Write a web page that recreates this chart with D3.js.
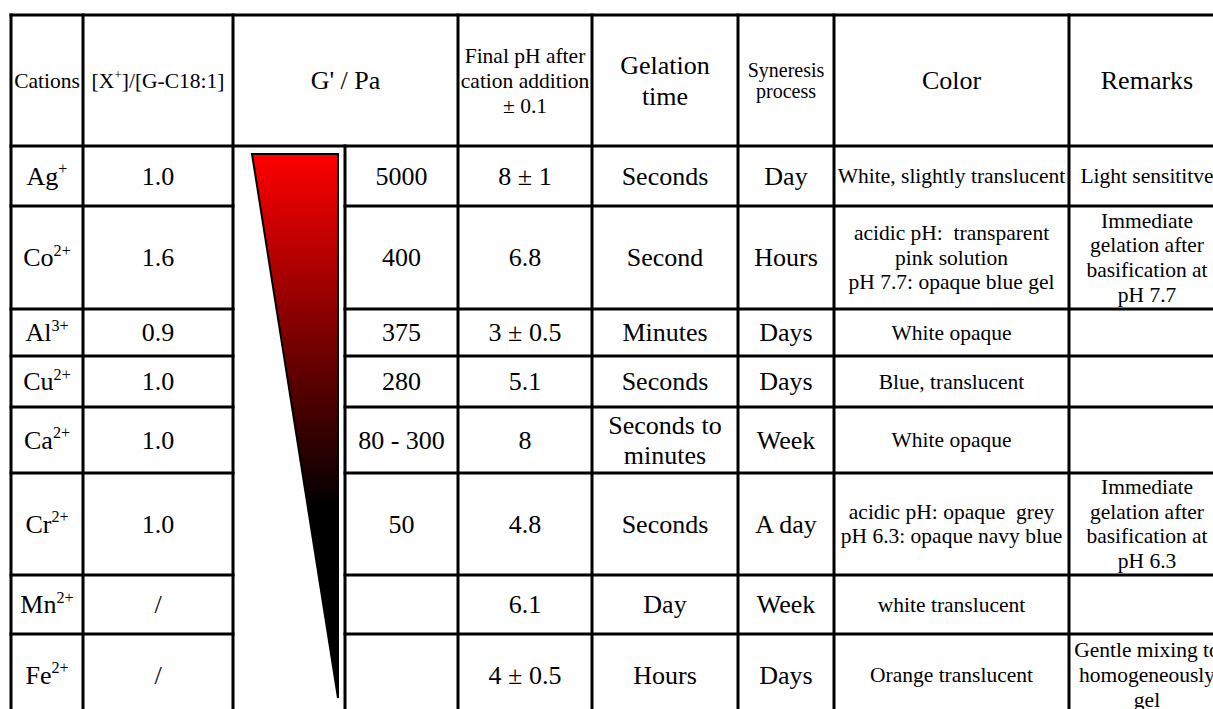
<!DOCTYPE html>
<html>
<head>
<meta charset="utf-8">
<script src="https://cdn.jsdelivr.net/npm/d3@7"></script>
<style>
  html, body { margin: 0; padding: 0; background: #fff; }
  svg { display: block; }
</style>
</head>
<body>
<svg id="chart" width="1213" height="709" font-family="'Liberation Serif', 'Times New Roman', Times, 'DejaVu Serif', serif"></svg>
<script>
// ---------------- data ----------------
const headers = [
  ["Cations"],
  ["[X|+|]/[G-C18:1]"],
  ["G' / Pa"],
  ["Final pH after", "cation addition", "± 0.1"],
  ["Gelation", "time"],
  ["Syneresis", "process"],
  ["Color"],
  ["Remarks"]
];
const cations = ["Ag", "Co", "Al", "Cu", "Ca", "Cr", "Mn", "Fe"];
const charges = ["+", "2+", "3+", "2+", "2+", "2+", "2+", "2+"];
const ratios = ["1.0", "1.6", "0.9", "1.0", "1.0", "1.0", "/", "/"];
const gPrime = ["5000", "400", "375", "280", "80 - 300", "50", "", ""];
const finalPH = ["8 ± 1", "6.8", "3 ± 0.5", "5.1", "8", "4.8", "6.1", "4 ± 0.5"];
const gelationTime = [["Seconds"], ["Second"], ["Minutes"], ["Seconds"], ["Seconds to", "minutes"], ["Seconds"], ["Day"], ["Hours"]];
const syneresis = ["Day", "Hours", "Days", "Days", "Week", "A day", "Week", "Days"];
const colorText = [
  ["White, slightly translucent"],
  ["acidic pH:  transparent", "pink solution", "pH 7.7: opaque blue gel"],
  ["White opaque"],
  ["Blue, translucent"],
  ["White opaque"],
  ["acidic pH: opaque  grey", "pH 6.3: opaque navy blue"],
  ["white translucent"],
  ["Orange translucent"]
];
const remarks = [
  ["Light sensititve"],
  ["Immediate", "gelation after", "basification at", "pH 7.7"],
  [],
  [],
  [],
  ["Immediate", "gelation after", "basification at", "pH 6.3"],
  [],
  ["Gentle mixing to", "homogeneously", "gel"]
];

// ---------------- layout ----------------
const colEdges = [11, 83, 233, 345, 458, 592, 738, 834, 1069, 1225];
const headerTop = 15, headerBottom = 146;
const rowHeights = [60, 103, 47, 51, 66, 102, 59, 82];
const rowEdges = [headerBottom];
rowHeights.forEach(h => rowEdges.push(rowEdges[rowEdges.length - 1] + h));
const LW = 3;
const FONT = "'Liberation Serif', 'Times New Roman', Times, 'DejaVu Serif', serif";

const svg = d3.select("#chart");
const rowIdx = d3.range(cations.length);
const yTop = d3.scaleOrdinal().domain(rowIdx).range(rowEdges.slice(0, -1));
const yBot = d3.scaleOrdinal().domain(rowIdx).range(rowEdges.slice(1));
const yMid = i => (yTop(i) + yBot(i)) / 2;

function lines(g, x, cy, arr, fs, lh) {
  const n = arr.length;
  arr.forEach((s, k) => {
    g.append("text")
      .attr("x", x)
      .attr("y", cy + (k - (n - 1) / 2) * lh + 0.33 * fs)
      .attr("text-anchor", "middle")
      .attr("font-family", FONT)
      .attr("font-size", fs)
      .attr("fill", "#000")
      .style("white-space", "pre")
      .text(s);
  });
}
function supText(g, x, y, base, sup, fs) {
  const t = g.append("text").attr("x", x).attr("y", y).attr("text-anchor", "middle")
    .attr("font-family", FONT).attr("font-size", fs).attr("fill", "#000");
  t.append("tspan").text(base);
  t.append("tspan").attr("dy", -0.4 * fs).attr("font-size", fs * 0.62).text(sup);
  return t;
}

const gText = svg.append("g");
const cx = i => (colEdges[i] + colEdges[i + 1]) / 2;
const hMid = (headerTop + headerBottom) / 2;

// ---------- header ----------
lines(gText, cx(0), hMid, headers[0], 21.5, 25);
{
  const parts = headers[1][0].split("|");
  const fs = 21.5;
  const t = gText.append("text").attr("x", cx(1)).attr("y", hMid + 0.33 * fs)
    .attr("text-anchor", "middle").attr("font-family", FONT).attr("font-size", fs).attr("fill", "#000");
  t.append("tspan").text(parts[0]);
  t.append("tspan").attr("dy", -0.4 * fs).attr("font-size", fs * 0.62).text(parts[1]);
  t.append("tspan").attr("dy", 0.4 * fs).attr("font-size", fs).text(parts[2]);
}
lines(gText, (colEdges[2] + colEdges[4]) / 2, hMid, headers[2], 26, 30);
lines(gText, cx(4), hMid, headers[3], 21.5, 25);
lines(gText, cx(5), hMid, headers[4], 26, 31);
lines(gText, cx(6), hMid, headers[5], 20, 21);
lines(gText, cx(7), hMid, headers[6], 26, 30);
lines(gText, cx(8), hMid, headers[7], 26, 30);

// ---------- body ----------
rowIdx.forEach(i => {
  const m = yMid(i);
  supText(gText, cx(0), m + 0.33 * 26, cations[i], charges[i], 26);
  lines(gText, cx(1), m, [ratios[i]], 26, 30);
  if (gPrime[i]) lines(gText, cx(3), m, [gPrime[i]], 26, 30);
  lines(gText, cx(4), m, [finalPH[i]], 26, 30);
  lines(gText, cx(5), m, gelationTime[i], 26, 30);
  lines(gText, cx(6), m, [syneresis[i]], 26, 30);
  lines(gText, cx(7), m, colorText[i], 21.5, 24.7);
  if (remarks[i].length) lines(gText, cx(8), m, remarks[i], 21.5, 24.7);
});

// ---------- gradient triangle (G' scale) ----------
const defs = svg.append("defs");
const grad = defs.append("linearGradient").attr("id", "gGrad")
  .attr("x1", 0).attr("y1", 0).attr("x2", 0).attr("y2", 1);
grad.append("stop").attr("offset", "0").attr("stop-color", "#ff0000");
grad.append("stop").attr("offset", "0.65").attr("stop-color", "#000000");
grad.append("stop").attr("offset", "1").attr("stop-color", "#000000");

const triX = d3.scaleLinear().domain([0, 1]).range([colEdges[2] + 19, colEdges[3] - 7]);
const triY = d3.scaleLinear().domain([0, 1]).range([rowEdges[0] + 8, rowEdges[rowEdges.length - 1] - 18]);
svg.append("path")
  .attr("d", d3.line()([[triX(0), triY(0)], [triX(1), triY(0)], [triX(1), triY(1)]]) + "Z")
  .attr("fill", "url(#gGrad)")
  .attr("stroke", "#000")
  .attr("stroke-width", 2)
  .attr("stroke-linejoin", "miter");

// ---------- grid lines ----------
const gl = svg.append("g").attr("stroke", "#000").attr("stroke-width", LW).attr("stroke-linecap", "square");
const bottom = rowEdges[rowEdges.length - 1];
[headerTop, headerBottom].forEach(y => gl.append("line").attr("x1", colEdges[0]).attr("x2", colEdges[9]).attr("y1", y).attr("y2", y));
rowEdges.slice(1).forEach(y => {
  gl.append("line").attr("x1", colEdges[0]).attr("x2", colEdges[2]).attr("y1", y).attr("y2", y);
  gl.append("line").attr("x1", colEdges[3]).attr("x2", colEdges[9]).attr("y1", y).attr("y2", y);
});
colEdges.forEach((x, k) => {
  const y1 = (k === 3) ? headerBottom : headerTop;
  gl.append("line").attr("x1", x).attr("x2", x).attr("y1", y1).attr("y2", bottom);
});
</script>
</body>
</html>
